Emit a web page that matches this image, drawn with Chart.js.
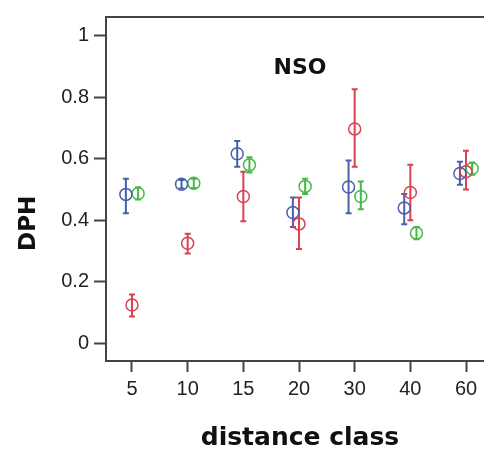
<!DOCTYPE html>
<html>
<head>
<meta charset="utf-8">
<script src="https://cdn.jsdelivr.net/npm/chart.js@4.4.1/dist/chart.umd.min.js"></script>
<style>
  html, body { margin: 0; padding: 0; background: #fff; }
  #wrap { width: 484px; height: 451px; }
</style>
</head>
<body>
<div id="wrap"><canvas id="chart"></canvas></div>
<script>
// distance classes on the x axis, DPH means with error bar ends
const distClasses = ['5', '10', '15', '20', '30', '40', '60'];
const yTicks = [0, 0.2, 0.4, 0.6, 0.8, 1];

const blueMean = [0.484, 0.517, 0.616, 0.425, 0.508, 0.440, 0.552];
const blueLow  = [0.423, 0.503, 0.574, 0.378, 0.423, 0.387, 0.515];
const blueHigh = [0.535, 0.531, 0.658, 0.474, 0.594, 0.485, 0.590];

const redMean = [0.124, 0.325, 0.477, 0.388, 0.697, 0.490, 0.558];
const redLow  = [0.087, 0.292, 0.397, 0.306, 0.574, 0.400, 0.500];
const redHigh = [0.158, 0.356, 0.558, 0.474, 0.826, 0.580, 0.626];

const greenMean = [0.487, 0.520, 0.580, 0.510, 0.477, 0.358, 0.568];
const greenLow  = [0.467, 0.505, 0.555, 0.485, 0.436, 0.338, 0.548];
const greenHigh = [0.507, 0.535, 0.605, 0.535, 0.526, 0.378, 0.588];

const axisColor = '#444';
const tickFont = { family: 'Liberation Sans', size: 20 };

const makeSet = (mean, low, high, color, offset) => ({
  data: mean.map((v, i) => ({ x: i + offset, y: v })),
  low: low,
  high: high,
  offset: offset,
  borderColor: color,
  backgroundColor: 'rgba(0,0,0,0)',
  pointRadius: 6,
  pointBorderWidth: 1.5,
  pointHoverRadius: 6,
  showLine: false
});

// whiskers, drawn through the chart's own scales
const errorBars = {
  id: 'errorBars',
  beforeDatasetsDraw(chart) {
    const ctx = chart.ctx;
    const x = chart.scales.x, y = chart.scales.y;
    chart.data.datasets.forEach((ds) => {
      ctx.save();
      ctx.strokeStyle = ds.borderColor;
      ctx.lineWidth = 2;
      ds.low.forEach((lo, i) => {
        const px = x.getPixelForValue(i + ds.offset);
        const top = y.getPixelForValue(ds.high[i]);
        const bot = y.getPixelForValue(lo);
        ctx.beginPath();
        ctx.moveTo(px, top); ctx.lineTo(px, bot);
        ctx.moveTo(px - 3, top); ctx.lineTo(px + 3, top);
        ctx.moveTo(px - 3, bot); ctx.lineTo(px + 3, bot);
        ctx.stroke();
      });
      ctx.restore();
    });
  }
};

// panel label and axis titles (the plot is cropped on the right, so
// the titles sit on the centre of the full panel, not of the visible part)
const texts = {
  id: 'texts',
  afterDraw(chart) {
    const ctx = chart.ctx;
    const area = chart.chartArea;
    const midX = area.left + 194;
    ctx.save();
    ctx.fillStyle = '#111';
    ctx.textAlign = 'center';
    ctx.textBaseline = 'middle';
    ctx.font = 'bold 22px "DejaVu Sans"';
    ctx.fillText('NSO', midX, area.top + 51);
    ctx.font = 'bold 25px "DejaVu Sans"';
    ctx.fillText('distance class', midX, area.bottom + 77);
    ctx.translate(29, chart.scales.y.getPixelForValue(0.39));
    ctx.rotate(-Math.PI / 2);
    ctx.font = 'bold 23px "DejaVu Sans"';
    ctx.fillText('DPH', 0, 0);
    ctx.restore();
  }
};

new Chart(document.getElementById('chart'), {
  type: 'scatter',
  data: {
    datasets: [
      makeSet(blueMean, blueLow, blueHigh, '#4a5fae', -0.11),
      makeSet(redMean, redLow, redHigh, '#d8434f', 0),
      makeSet(greenMean, greenLow, greenHigh, '#48b84a', 0.11)
    ]
  },
  options: {
    responsive: true,
    maintainAspectRatio: false,
    animation: false,
    layout: { padding: 0, autoPadding: false },
    plugins: { legend: { display: false }, tooltip: { enabled: false } },
    scales: {
      x: {
        type: 'linear',
        min: -0.467,
        max: 6.323,
        afterBuildTicks: (a) => { a.ticks = distClasses.map((c, i) => ({ value: i })); },
        afterFit: (a) => { a.height = 90; },
        grid: { drawOnChartArea: false, tickLength: 11, tickWidth: 2, tickColor: axisColor },
        border: { color: axisColor, width: 2 },
        ticks: {
          callback: (v, i) => distClasses[i],
          font: tickFont, color: '#222', padding: 5,
          maxRotation: 0, autoSkip: false
        }
      },
      xTop: {
        type: 'linear',
        position: 'top',
        min: -0.467,
        max: 6.323,
        afterFit: (a) => { a.height = 14; },
        grid: { drawOnChartArea: false, drawTicks: false },
        border: { color: axisColor, width: 2 },
        ticks: { display: false }
      },
      y: {
        min: -0.058,
        max: 1.061,
        afterBuildTicks: (a) => { a.ticks = yTicks.map((v) => ({ value: v })); },
        afterFit: (a) => { a.width = 106; },
        grid: { drawOnChartArea: false, tickLength: 12, tickWidth: 2, tickColor: axisColor },
        border: { color: axisColor, width: 2 },
        ticks: { callback: (v) => String(v), font: tickFont, color: '#222', padding: 5 }
      }
    }
  },
  plugins: [errorBars, texts]
});
</script>
</body>
</html>
